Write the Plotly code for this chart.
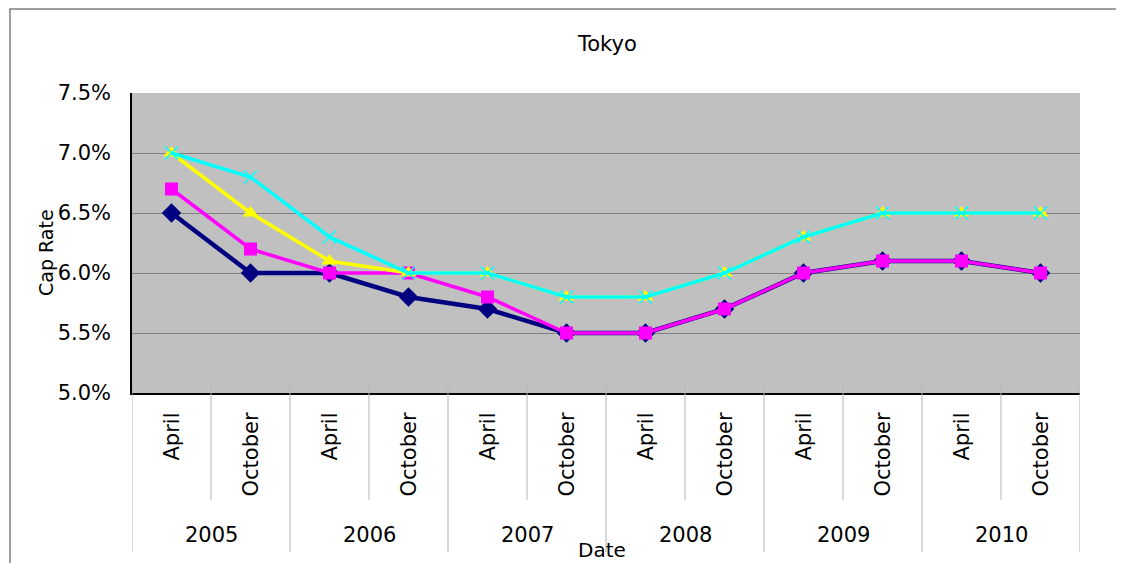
import plotly.graph_objects as go

# ---- data ----
years = ["2005", "2006", "2007", "2008", "2009", "2010"]
months = ["April", "October"]
series_navy = [6.5, 6.0, 6.0, 5.8, 5.7, 5.5, 5.5, 5.7, 6.0, 6.1, 6.1, 6.0]
series_magenta = [6.7, 6.2, 6.0, 6.0, 5.8, 5.5, 5.5, 5.7, 6.0, 6.1, 6.1, 6.0]
series_yellow = [7.0, 6.5, 6.1, 6.0, 6.0, 5.8, 5.8, 6.0, 6.3, 6.5, 6.5, 6.5]
series_cyan = [7.0, 6.8, 6.3, 6.0, 6.0, 5.8, 5.8, 6.0, 6.3, 6.5, 6.5, 6.5]
y_ticks = [5.0, 5.5, 6.0, 6.5, 7.0, 7.5]

cats = [f"{y} {m}" for y in years for m in months]

OFF = 8  # page body margin
W, H = 1124, 563
L, R, T, B = 132 - OFF, 1080 - OFF, 93 - OFF, 393 - OFF
FONT = "DejaVu Sans"

def px_y(p):  # page pixel y -> paper y
    return (B - (p - OFF)) / (B - T)

def px_x(p):  # page pixel x -> paper x
    return ((p - OFF) - L) / (R - L)

fig = go.Figure()

def pct(v):
    return [x / 100 for x in v]

fig.add_trace(go.Scatter(x=cats, y=pct(series_navy), mode="lines+markers",
                         line=dict(color="#000080", width=4.5),
                         marker=dict(symbol="diamond", size=15, color="#000080"),
                         name="Series 1"))
fig.add_trace(go.Scatter(x=cats, y=pct(series_magenta), mode="lines+markers",
                         line=dict(color="#FF00FF", width=3.5),
                         marker=dict(symbol="square", size=13, color="#FF00FF"),
                         name="Series 2"))
fig.add_trace(go.Scatter(x=cats, y=pct(series_yellow), mode="lines+markers",
                         line=dict(color="#FFFF00", width=3.5),
                         marker=dict(symbol="triangle-up", size=14, color="#FFFF00"),
                         name="Series 3"))
fig.add_trace(go.Scatter(x=cats, y=pct(series_cyan), mode="lines+markers",
                         line=dict(color="#00FFFF", width=3.5),
                         marker=dict(symbol="x-thin", size=13, color="#00FFFF",
                                     line=dict(color="#00FFFF", width=1.5)),
                         name="Series 4"))

shapes = []
# outer frame
shapes.append(dict(type="rect", xref="paper", yref="paper",
                   x0=px_x(10), x1=px_x(1145), y0=px_y(585), y1=px_y(9),
                   line=dict(color="#808080", width=1.5), fillcolor="rgba(0,0,0,0)",
                   layer="below"))
# category dividers
for i in range(len(cats) + 1):
    xpos = i - 0.5
    outer = (i % 2 == 0)
    shapes.append(dict(type="line", xref="x", yref="paper",
                       x0=xpos, x1=xpos, y0=px_y(386),
                       y1=px_y(552 if outer else 500),
                       line=dict(color="#b4b4b4", width=1)))

annotations = []
# month labels
for c, lab in zip(cats, [m for _ in years for m in months]):
    annotations.append(dict(x=c, y=px_y(411), xref="x", yref="paper",
                            text=lab, showarrow=False, textangle=-90,
                            xanchor="center", yanchor="top",
                            font=dict(family=FONT, size=21, color="#000000")))
# year labels
for j, yr in enumerate(years):
    annotations.append(dict(x=2 * j + 0.5, y=px_y(535), xref="x", yref="paper",
                            text=yr, showarrow=False,
                            xanchor="center", yanchor="middle",
                            font=dict(family=FONT, size=21, color="#000000")))
# title
annotations.append(dict(x=px_x(607), y=px_y(44), xref="paper", yref="paper",
                        text="Tokyo", showarrow=False, xanchor="center", yanchor="middle",
                        font=dict(family=FONT, size=21, color="#000000")))
# axis titles
annotations.append(dict(x=px_x(46), y=px_y(253), xref="paper", yref="paper",
                        text="Cap Rate", showarrow=False, textangle=-90,
                        xanchor="center", yanchor="middle",
                        font=dict(family=FONT, size=19, color="#000000")))
annotations.append(dict(x=px_x(602), y=px_y(550), xref="paper", yref="paper",
                        text="Date", showarrow=False, xanchor="center", yanchor="middle",
                        font=dict(family=FONT, size=20, color="#000000")))

fig.update_layout(
    width=W, height=H,
    margin=dict(l=L, r=W - R, t=T, b=H - B, pad=0),
    paper_bgcolor="#FFFFFF", plot_bgcolor="#C0C0C0",
    showlegend=False,
    shapes=shapes, annotations=annotations,
    font=dict(family=FONT, size=20, color="#000000"),
)
fig.update_xaxes(type="category", range=[-0.5, len(cats) - 0.5],
                 showticklabels=False, showgrid=False, zeroline=False,
                 showline=True, linecolor="#000000", linewidth=1.5, ticks="")
fig.update_yaxes(range=[0.05, 0.075], tickvals=[v / 100 for v in y_ticks],
                 tickformat=".1%", showgrid=True, gridcolor="#808080", gridwidth=1,
                 zeroline=False, showline=True, linecolor="#000000", linewidth=1.5,
                 ticks="", ticklabelstandoff=15,
                 tickfont=dict(family=FONT, size=21, color="#000000"))

fig.write_html("out.html")
